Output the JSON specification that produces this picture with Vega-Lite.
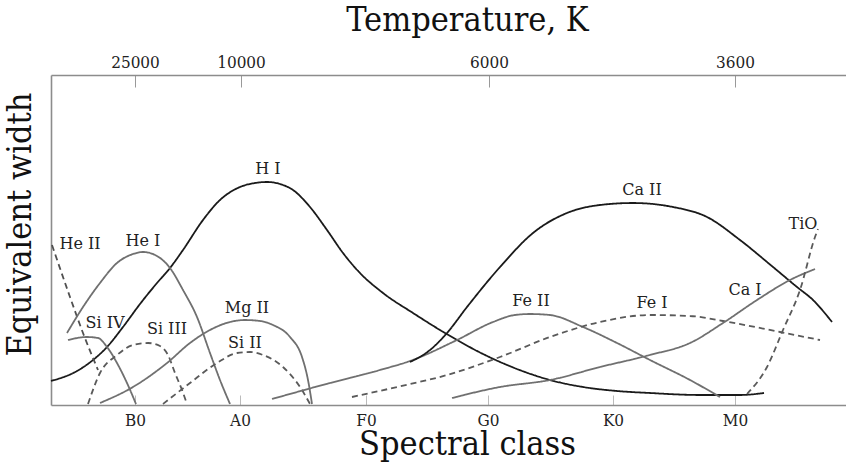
{
  "$schema": "https://vega.github.io/schema/vega-lite/v6.json",
  "width": 832,
  "height": 330,
  "autosize": {"type": "none"},
  "padding": {"left": 51, "top": 75, "right": 0, "bottom": 57},
  "background": "white",
  "config": {
    "view": {"stroke": null},
    "font": "'DejaVu Serif Condensed', 'DejaVu Serif', serif",
    "axis": {
      "labelFont": "'DejaVu Serif Condensed', 'DejaVu Serif', serif",
      "titleFont": "'DejaVu Serif Condensed', 'DejaVu Serif', serif",
      "titleFontWeight": "normal",
      "titleColor": "#111111",
      "labelColor": "#222222",
      "domainColor": "#8c8c8c",
      "domainWidth": 1.6,
      "grid": false
    }
  },
  "datasets": {
    "curves": [
      {"s": "H I", "x": 0, "y": 24}, {"s": "H I", "x": 26, "y": 34}, {"s": "H I", "x": 42, "y": 45}, {"s": "H I", "x": 56, "y": 58},
      {"s": "H I", "x": 72, "y": 78}, {"s": "H I", "x": 89, "y": 101}, {"s": "H I", "x": 106, "y": 122}, {"s": "H I", "x": 119, "y": 137},
      {"s": "H I", "x": 132, "y": 155}, {"s": "H I", "x": 152, "y": 185}, {"s": "H I", "x": 169, "y": 205}, {"s": "H I", "x": 189, "y": 218},
      {"s": "H I", "x": 204, "y": 222}, {"s": "H I", "x": 216, "y": 223}, {"s": "H I", "x": 229, "y": 221}, {"s": "H I", "x": 242, "y": 215},
      {"s": "H I", "x": 259, "y": 198}, {"s": "H I", "x": 276, "y": 175}, {"s": "H I", "x": 292, "y": 152}, {"s": "H I", "x": 309, "y": 132},
      {"s": "H I", "x": 332, "y": 112}, {"s": "H I", "x": 362, "y": 92}, {"s": "H I", "x": 394, "y": 72}, {"s": "H I", "x": 432, "y": 51},
      {"s": "H I", "x": 466, "y": 36}, {"s": "H I", "x": 499, "y": 25}, {"s": "H I", "x": 532, "y": 18}, {"s": "H I", "x": 566, "y": 14},
      {"s": "H I", "x": 599, "y": 12}, {"s": "H I", "x": 649, "y": 10}, {"s": "H I", "x": 689, "y": 10}, {"s": "H I", "x": 713, "y": 12},

      {"s": "He II", "x": 1, "y": 160}, {"s": "He II", "x": 19, "y": 108}, {"s": "He II", "x": 32, "y": 72}, {"s": "He II", "x": 47, "y": 35},

      {"s": "He I", "x": 16, "y": 72}, {"s": "He I", "x": 32, "y": 98}, {"s": "He I", "x": 49, "y": 122}, {"s": "He I", "x": 66, "y": 142},
      {"s": "He I", "x": 82, "y": 151}, {"s": "He I", "x": 92, "y": 153}, {"s": "He I", "x": 106, "y": 149}, {"s": "He I", "x": 119, "y": 137},
      {"s": "He I", "x": 132, "y": 115}, {"s": "He I", "x": 146, "y": 88}, {"s": "He I", "x": 159, "y": 52}, {"s": "He I", "x": 169, "y": 25},
      {"s": "He I", "x": 179, "y": 1},

      {"s": "Si IV", "x": 17, "y": 65}, {"s": "Si IV", "x": 36, "y": 68}, {"s": "Si IV", "x": 47, "y": 67}, {"s": "Si IV", "x": 56, "y": 58},
      {"s": "Si IV", "x": 66, "y": 42}, {"s": "Si IV", "x": 76, "y": 22}, {"s": "Si IV", "x": 85, "y": 1},

      {"s": "Si III", "x": 37, "y": 1}, {"s": "Si III", "x": 49, "y": 32}, {"s": "Si III", "x": 66, "y": 50}, {"s": "Si III", "x": 82, "y": 60},
      {"s": "Si III", "x": 97, "y": 62}, {"s": "Si III", "x": 109, "y": 59}, {"s": "Si III", "x": 117, "y": 50}, {"s": "Si III", "x": 124, "y": 32},
      {"s": "Si III", "x": 131, "y": 15}, {"s": "Si III", "x": 136, "y": 1},

      {"s": "Mg II", "x": 49, "y": 2}, {"s": "Mg II", "x": 82, "y": 18}, {"s": "Mg II", "x": 116, "y": 42}, {"s": "Mg II", "x": 139, "y": 62},
      {"s": "Mg II", "x": 159, "y": 75}, {"s": "Mg II", "x": 179, "y": 83}, {"s": "Mg II", "x": 194, "y": 85}, {"s": "Mg II", "x": 209, "y": 84},
      {"s": "Mg II", "x": 222, "y": 80}, {"s": "Mg II", "x": 239, "y": 68}, {"s": "Mg II", "x": 251, "y": 48}, {"s": "Mg II", "x": 257, "y": 25},
      {"s": "Mg II", "x": 261, "y": 1},

      {"s": "Si II", "x": 112, "y": 1}, {"s": "Si II", "x": 139, "y": 22}, {"s": "Si II", "x": 166, "y": 42}, {"s": "Si II", "x": 186, "y": 52},
      {"s": "Si II", "x": 199, "y": 53}, {"s": "Si II", "x": 212, "y": 50}, {"s": "Si II", "x": 232, "y": 38}, {"s": "Si II", "x": 249, "y": 18},
      {"s": "Si II", "x": 259, "y": 1},

      {"s": "Fe II", "x": 221, "y": 6}, {"s": "Fe II", "x": 279, "y": 22}, {"s": "Fe II", "x": 329, "y": 35}, {"s": "Fe II", "x": 359, "y": 44},
      {"s": "Fe II", "x": 406, "y": 65}, {"s": "Fe II", "x": 442, "y": 83}, {"s": "Fe II", "x": 464, "y": 90}, {"s": "Fe II", "x": 479, "y": 91},
      {"s": "Fe II", "x": 499, "y": 90}, {"s": "Fe II", "x": 532, "y": 78}, {"s": "Fe II", "x": 566, "y": 62}, {"s": "Fe II", "x": 599, "y": 45},
      {"s": "Fe II", "x": 639, "y": 25}, {"s": "Fe II", "x": 669, "y": 8},

      {"s": "Fe I", "x": 301, "y": 8}, {"s": "Fe I", "x": 346, "y": 18}, {"s": "Fe I", "x": 396, "y": 30}, {"s": "Fe I", "x": 449, "y": 48},
      {"s": "Fe I", "x": 499, "y": 68}, {"s": "Fe I", "x": 549, "y": 83}, {"s": "Fe I", "x": 599, "y": 90}, {"s": "Fe I", "x": 639, "y": 89},
      {"s": "Fe I", "x": 672, "y": 84}, {"s": "Fe I", "x": 729, "y": 73}, {"s": "Fe I", "x": 769, "y": 65},

      {"s": "Ca II", "x": 359, "y": 43}, {"s": "Ca II", "x": 379, "y": 55}, {"s": "Ca II", "x": 396, "y": 72}, {"s": "Ca II", "x": 416, "y": 98},
      {"s": "Ca II", "x": 449, "y": 138}, {"s": "Ca II", "x": 482, "y": 172}, {"s": "Ca II", "x": 516, "y": 192}, {"s": "Ca II", "x": 549, "y": 200},
      {"s": "Ca II", "x": 582, "y": 202}, {"s": "Ca II", "x": 622, "y": 198}, {"s": "Ca II", "x": 656, "y": 188}, {"s": "Ca II", "x": 689, "y": 165},
      {"s": "Ca II", "x": 722, "y": 138}, {"s": "Ca II", "x": 746, "y": 118}, {"s": "Ca II", "x": 762, "y": 105}, {"s": "Ca II", "x": 781, "y": 83},

      {"s": "Ca I", "x": 401, "y": 7}, {"s": "Ca I", "x": 449, "y": 18}, {"s": "Ca I", "x": 499, "y": 25}, {"s": "Ca I", "x": 549, "y": 38},
      {"s": "Ca I", "x": 599, "y": 50}, {"s": "Ca I", "x": 639, "y": 62}, {"s": "Ca I", "x": 672, "y": 82}, {"s": "Ca I", "x": 706, "y": 105},
      {"s": "Ca I", "x": 739, "y": 125}, {"s": "Ca I", "x": 764, "y": 136},

      {"s": "TiO", "x": 696, "y": 11}, {"s": "TiO", "x": 716, "y": 38}, {"s": "TiO", "x": 732, "y": 75}, {"s": "TiO", "x": 749, "y": 115},
      {"s": "TiO", "x": 764, "y": 168}, {"s": "TiO", "x": 767, "y": 176}
    ],
    "labels": [
      {"t": "He II", "x": 29, "y": 161},
      {"t": "He I", "x": 92, "y": 164},
      {"t": "Si IV", "x": 54, "y": 82},
      {"t": "Si III", "x": 116, "y": 76},
      {"t": "Mg II", "x": 196, "y": 97},
      {"t": "Si II", "x": 194, "y": 62},
      {"t": "H I", "x": 217, "y": 236},
      {"t": "Fe II", "x": 480, "y": 104},
      {"t": "Fe I", "x": 601, "y": 102},
      {"t": "Ca II", "x": 591, "y": 215},
      {"t": "Ca I", "x": 694, "y": 115},
      {"t": "TiO", "x": 752, "y": 181}
    ]
  },
  "resolve": {"axis": {"x": "independent"}},
  "layer": [
    {
      "data": {"name": "curves"},
      "mark": {"type": "line", "interpolate": "monotone", "strokeCap": "butt"},
      "encoding": {
        "x": {
          "field": "x", "type": "quantitative",
          "scale": {"domain": [0, 832], "nice": false, "zero": false},
          "axis": {
            "orient": "bottom",
            "values": [84, 189, 315, 437, 562, 684],
            "labelExpr": "datum.value == 84 ? 'B0' : datum.value == 189 ? 'A0' : datum.value == 315 ? 'F0' : datum.value == 437 ? 'G0' : datum.value == 562 ? 'K0' : 'M0'",
            "title": "Spectral class",
            "titleFontSize": 34,
            "titlePadding": -1,
            "labelFontSize": 17,
            "labelPadding": 17,
            "tickSize": -10,
            "tickColor": "#bbbbbb",
            "tickWidth": 1
          }
        },
        "y": {
          "field": "y", "type": "quantitative",
          "scale": {"domain": [0, 330], "nice": false},
          "axis": {
            "title": "Equivalent width",
            "titleFontSize": 34,
            "titlePadding": 14,
            "titleY": 149,
            "ticks": false,
            "labels": false
          }
        },
        "detail": {"field": "s"},
        "color": {
          "field": "s", "type": "nominal", "legend": null,
          "scale": {
            "domain": ["H I", "Ca II", "He I", "Si IV", "Mg II", "Fe II", "Ca I", "He II", "Si III", "Si II", "Fe I", "TiO"],
            "range": ["#1a1a1a", "#1a1a1a", "#707070", "#707070", "#707070", "#707070", "#707070", "#505050", "#5a5a5a", "#5a5a5a", "#5a5a5a", "#5a5a5a"]
          }
        },
        "strokeWidth": {
          "field": "s", "type": "nominal", "legend": null,
          "scale": {
            "domain": ["H I", "Ca II", "He I", "Si IV", "Mg II", "Fe II", "Ca I", "He II", "Si III", "Si II", "Fe I", "TiO"],
            "range": [1.8, 1.8, 1.2, 1.2, 1.2, 1.2, 1.2, 1.1, 1.1, 1.1, 1.1, 1.1]
          }
        },
        "strokeDash": {
          "field": "s", "type": "nominal", "legend": null,
          "scale": {
            "domain": ["H I", "Ca II", "He I", "Si IV", "Mg II", "Fe II", "Ca I", "He II", "Si III", "Si II", "Fe I", "TiO"],
            "range": [[1, 0], [1, 0], [1, 0], [1, 0], [1, 0], [1, 0], [1, 0], [6, 4], [6, 4], [6, 4], [6, 4], [6, 4]]
          }
        }
      }
    },
    {
      "data": {"name": "labels"},
      "mark": {"type": "text", "fontSize": 16, "color": "#222222", "align": "center", "baseline": "middle", "font": "'DejaVu Serif', serif"},
      "encoding": {
        "x": {
          "field": "x", "type": "quantitative",
          "axis": {
            "orient": "top",
            "values": [84, 190, 438, 684],
            "labelExpr": "datum.value == 84 ? '25000' : datum.value == 190 ? '10000' : datum.value == 438 ? '6000' : '3600'",
            "title": "Temperature, K",
            "titleFontSize": 34,
            "titlePadding": 16,
            "labelFontSize": 17,
            "labelPadding": 16,
            "tickSize": -12,
            "tickColor": "#999999",
            "tickWidth": 1
          }
        },
        "y": {
          "field": "y", "type": "quantitative",
          "axis": {
            "title": "Equivalent width",
            "titleFontSize": 34,
            "titlePadding": 14,
            "titleY": 149,
            "ticks": false,
            "labels": false
          }
        },
        "text": {"field": "t"}
      }
    }
  ]
}
